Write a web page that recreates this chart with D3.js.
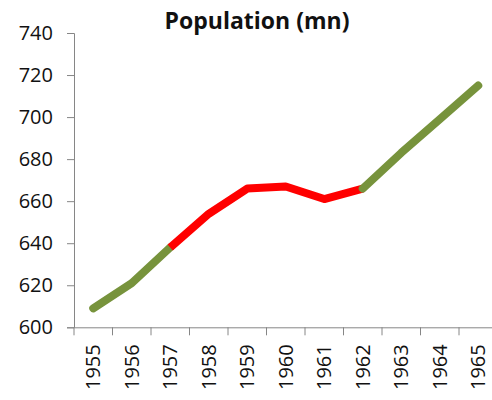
<!DOCTYPE html>
<html>
<head>
<meta charset="utf-8">
<script src="https://cdn.jsdelivr.net/npm/d3@7"></script>
<style>
  body { margin: 0; background: #fff; }
  text { font-family: "Open Sans", "Liberation Sans", Arial, sans-serif; }
</style>
</head>
<body>
<div class="container"></div>
<script>
const years = ['1955', '1956', '1957', '1958', '1959', '1960', '1961', '1962', '1963', '1964', '1965'];
const population = [609, 621, 638, 654, 666, 667, 661, 666, 683, 699, 715];
// colour of each segment, index i joins point i and i+1
const segmentColors = ['green', 'green', 'red', 'red', 'red', 'red', 'red', 'green', 'green', 'green'];
const yTicks = [600, 620, 640, 660, 680, 700, 720, 740];

const width = 492;
const height = 400;
const colors = { green: '#77933C', red: '#FF0000' };

const svg = d3.select('.container')
    .append('svg')
    .attr('width', width)
    .attr('height', height);

const x = d3.scaleBand()
    .domain(years)
    .range([74, 497.5]);

const y = d3.scaleLinear()
    .domain([600, 740])
    .range([327.3, 33]);

// y axis
const yAxis = svg.append('g')
    .attr('transform', 'translate(74,0)')
    .call(d3.axisLeft(y).tickValues(yTicks).tickSize(7).tickPadding(14));

// x axis, ticks on category boundaries
const xAxis = svg.append('g')
    .attr('transform', `translate(0,${y(600)})`)
    .call(d3.axisBottom(x).tickSize(0).tickPadding(0));

xAxis.selectAll('.tick line').remove();
xAxis.selectAll('.bound')
    .data(years.concat(['end']))
    .enter()
    .append('line')
    .attr('x1', (d, i) => i < years.length ? x(d) : x.range()[1])
    .attr('x2', (d, i) => i < years.length ? x(d) : x.range()[1])
    .attr('y1', 0)
    .attr('y2', 8)
    .attr('stroke', '#868686');

xAxis.selectAll('.tick text')
    .attr('transform', 'rotate(-90)')
    .attr('text-anchor', 'end')
    .attr('dy', '0.35em')
    .attr('x', -17)
    .attr('y', 0);

svg.selectAll('.domain').attr('stroke', '#868686');
yAxis.selectAll('.tick line').attr('stroke', '#868686');
svg.selectAll('.tick text')
    .attr('fill', '#111')
    .style('font-size', '20px');

// line in coloured segments
const line = d3.line()
    .x(d => x(d.year) + x.bandwidth() / 2)
    .y(d => y(d.value));

const points = years.map((d, i) => ({ year: d, value: population[i] }));

// group consecutive segments of the same colour
const runs = [];
segmentColors.forEach((c, i) => {
    const last = runs[runs.length - 1];
    if (last && last.color === c) {
        last.pts.push(points[i + 1]);
    } else {
        runs.push({ color: c, pts: [points[i], points[i + 1]] });
    }
});

svg.append('g')
    .selectAll('path')
    .data(runs)
    .enter()
    .append('path')
    .attr('d', d => line(d.pts))
    .attr('fill', 'none')
    .attr('stroke', d => colors[d.color])
    .attr('stroke-width', 8)
    .attr('stroke-linejoin', 'round')
    .attr('stroke-linecap', (d, i) => (i === 0 || i === runs.length - 1) ? 'round' : 'butt');

svg.append('text')
    .attr('x', 257)
    .attr('y', 29)
    .attr('text-anchor', 'middle')
    .style('font-weight', 'bold')
    .style('font-size', '23px')
    .attr('fill', '#111')
    .text('Population (mn)');
</script>
</body>
</html>
